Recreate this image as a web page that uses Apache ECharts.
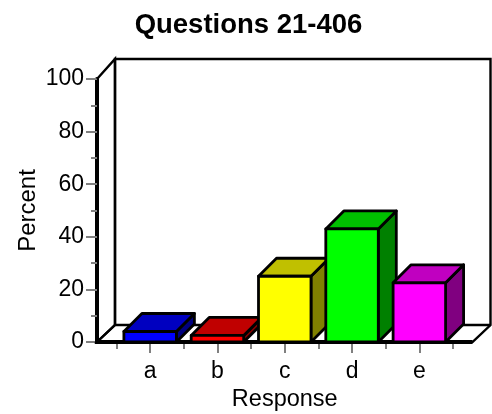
<!DOCTYPE html>
<html>
<head>
<meta charset="utf-8">
<style>
    html, body { margin: 0; padding: 0; background: #ffffff; }
    #main { width: 492px; height: 414px; }
</style>
<script src="https://cdn.jsdelivr.net/npm/echarts@6/dist/echarts.min.js"></script>
</head>
<body>
<div id="main"></div>
<script>
const categories = ["a", "b", "c", "d", "e"];
const percents = [4, 2.5, 25, 43, 22.5];
const frontColors = ["#0000ff", "#ff0000", "#ffff00", "#00ff00", "#ff00ff"];
const topColors = ["#0000c0", "#c00000", "#c0c000", "#00c000", "#c000c0"];
const sideColors = ["#000080", "#800000", "#808000", "#008000", "#800080"];

const font = "Liberation Sans, Arial, sans-serif";
const depthX = 18; // 3D偏移
const depthY = 18;
const barRatio = 0.78;
const sidePad = 19.5; // 坐标轴比类目区间多出的宽度

// 背景墙和地板
function renderFrame (params, api) {
    const band = api.size([1, 0])[0];
    const left = api.coord([0, 0])[0] - band / 2 - sidePad;
    const right = api.coord([categories.length - 1, 0])[0] + band / 2 + sidePad;
    const bottom = api.coord([0, 0])[1];
    const top = api.coord([0, 100])[1];
    const line = { stroke: "#000000", lineWidth: 2.4, fill: null };
    const poly = function (points, style) {
        return { type: "polyline", shape: { points }, style };
    };
    return {
        type: "group",
        children: [
            {
                type: "polygon",
                shape: { points: [[left + 18, top - 20], [right + 18, top - 20], [right + 18, bottom - 17], [right, bottom], [left, bottom], [left + 18, bottom - 17]] },
                style: { fill: "#ffffff", stroke: "#000000", lineWidth: 2.4 }
            },
            poly([[left, top], [left + 18, top - 20], [left + 18, bottom - 17]], line),
            poly([[left, bottom], [left + 18, bottom - 17], [right + 18, bottom - 17]], line),
            poly([[left - 2, bottom], [right, bottom]], { stroke: "#000000", lineWidth: 4, fill: null })
        ]
    };
}

// 立体柱子
function renderBar (params, api) {
    const i = api.value(0);
    const end = api.coord([i, api.value(1)]);
    const base = api.coord([i, 0]);
    const width = api.size([1, 0])[0] * barRatio;
    const x0 = end[0] - width / 2;
    const x1 = end[0] + width / 2;
    const y0 = end[1];
    const y1 = base[1];
    const edge = { stroke: "#000000", lineWidth: 2.8, lineJoin: "round" };
    const face = function (points, fill) {
        return { type: "polygon", shape: { points }, style: Object.assign({ fill }, edge) };
    };
    return {
        type: "group",
        children: [
            face([[x1, y0], [x1 + depthX, y0 - depthY], [x1 + depthX, y1 - depthY], [x1, y1]], sideColors[i]),
            face([[x0, y0], [x0 + depthX, y0 - depthY], [x1 + depthX, y0 - depthY], [x1, y0]], topColors[i]),
            face([[x0, y0], [x1, y0], [x1, y1], [x0, y1]], frontColors[i])
        ]
    };
}

const dom = echarts.init(document.getElementById("main"), null, { renderer: "canvas" });
const hidden = { show: false };
const tickStyle = { color: "#808080", width: 2 };

const option = {
    animation: false,
    backgroundColor: "#ffffff",
    title: {
        text: "Questions 21-406",
        left: 243.5,
        top: 6,
        textAlign: "center",
        textStyle: { fontFamily: font, fontSize: 27.5, fontWeight: "bold", color: "#000000" }
    },
    grid: { left: 116.5, top: 79, width: 336.5, height: 263, outerBoundsMode: "none" },
    xAxis: [
        {
            type: "category",
            data: categories,
            name: "Response",
            nameLocation: "middle",
            nameGap: 45,
            nameTextStyle: { fontFamily: font, fontSize: 23.5, color: "#000000" },
            axisLine: hidden,
            axisTick: { show: true, alignWithLabel: true, length: 11, lineStyle: tickStyle },
            axisLabel: { fontFamily: font, fontSize: 23, color: "#000000", margin: 18 },
            splitLine: hidden
        },
        {
            type: "category",
            data: categories,
            position: "bottom",
            axisLine: hidden,
            axisTick: { show: true, length: 7, lineStyle: tickStyle },
            axisLabel: hidden,
            splitLine: hidden
        }
    ],
    yAxis: {
        type: "value",
        min: 0,
        max: 100,
        interval: 20,
        offset: 19.5,
        name: "Percent",
        nameLocation: "middle",
        nameGap: 57,
        nameMoveOverlap: false,
        nameTextStyle: { fontFamily: font, fontSize: 24, color: "#000000" },
        axisLine: { show: true, lineStyle: { color: "#000000", width: 4 } },
        axisTick: { show: true, length: 11, lineStyle: tickStyle },
        minorTick: { show: true, splitNumber: 2, length: 6, lineStyle: tickStyle },
        axisLabel: { fontFamily: font, fontSize: 23, color: "#000000", margin: 13 },
        splitLine: hidden
    },
    series: [
        {
            type: "custom",
            renderItem: renderFrame,
            data: [[0, 0]],
            clip: false,
            silent: true,
            z: 1
        },
        {
            type: "custom",
            renderItem: renderBar,
            data: categories.map(function (c, i) { return [i, percents[i]]; }),
            encode: { x: 0, y: 1 },
            clip: false,
            silent: true,
            z: 3
        }
    ]
};
dom.setOption(option);
</script>
</body>
</html>
